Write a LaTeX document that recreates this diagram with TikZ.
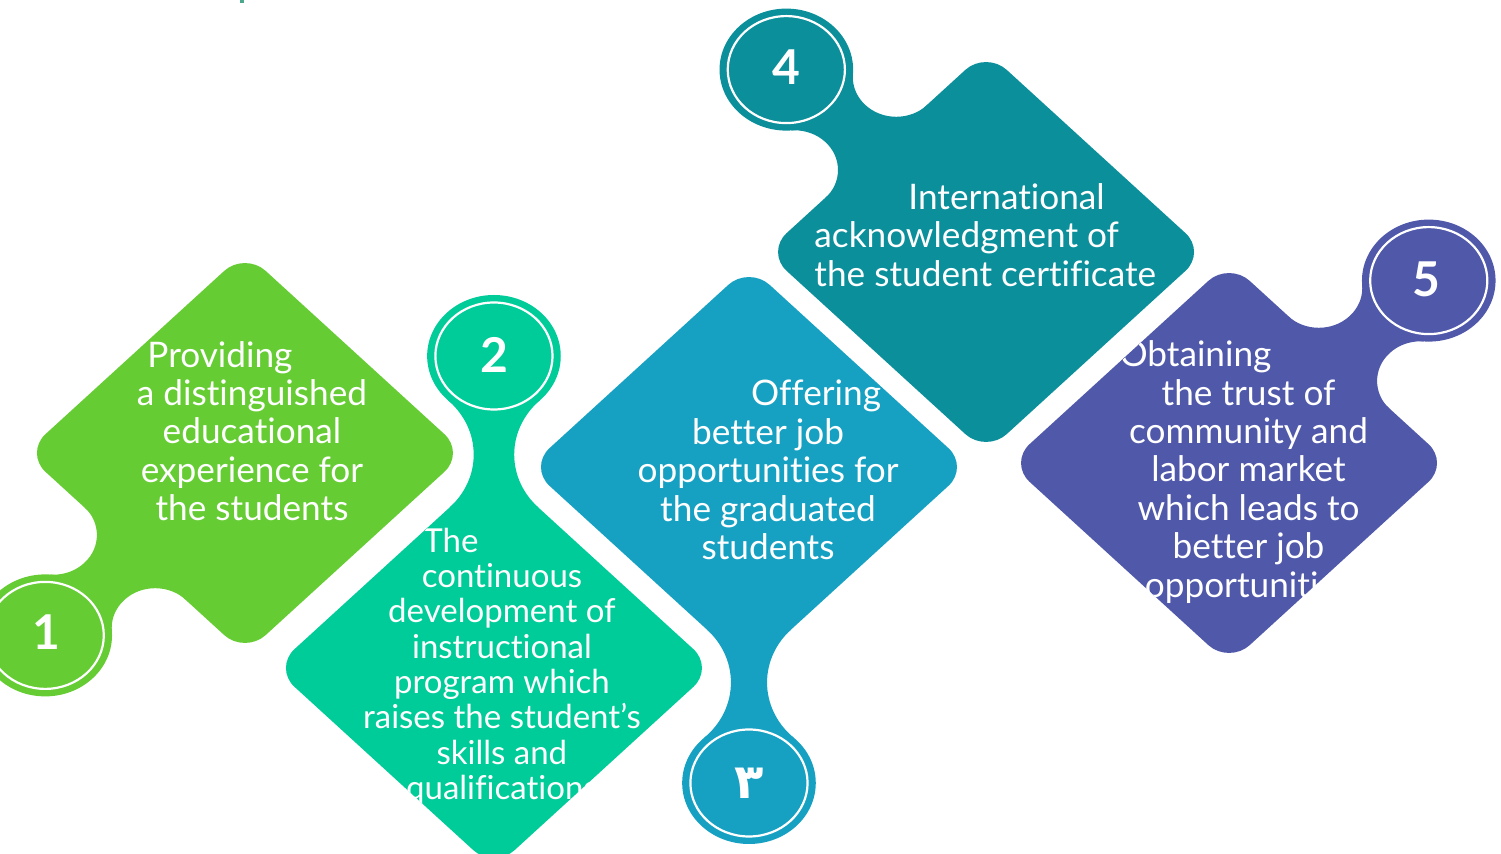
\documentclass[tikz,border=0pt]{standalone}
\usepackage{fontspec}
\setmainfont{Lato}[Ligatures=NoCommon]
\newfontfamily\arabicfont[Script=Arabic]{DejaVu Sans}
\definecolor{cA}{HTML}{66CC33}
\definecolor{cB}{HTML}{00CC99}
\definecolor{cC}{HTML}{16A1C3}
\definecolor{cD}{HTML}{0A8F9B}
\definecolor{cE}{HTML}{5058AA}
\definecolor{tinyc}{HTML}{4CA88C}
\tikzset{
  desc/.style={text=white, font=\fontsize{17.6}{19.2}\selectfont, align=center, inner sep=0pt},
  numtext/.style={text=white, font=\fontsize{24}{28}\selectfont\bfseries, inner sep=0pt},
  ring/.style={draw=white, line width=1.1pt},
}
\newcommand{\filldiamond}[3]{\fill[#3, rounded corners=14pt] (#1-100.5,#2-100.5) -- (#1,#2-201) -- (#1+201,#2) -- (#1,#2+201) -- (#1-201,#2) -- cycle;}
\newcommand{\clipdiamond}[2]{\clip[rounded corners=14pt] (#1-100.5,#2-100.5) -- (#1,#2-201) -- (#1+201,#2) -- (#1,#2+201) -- (#1-201,#2) -- cycle;}
\newcommand{\medal}[3]{\fill[#3] (#1,#2) circle[radius=30.5pt]; \draw[ring] (#1,#2) circle[radius=26.75pt];}
% neck towards an edge of the diamond
\newcommand{\edgeneck}[4]{%
\begin{scope}[shift={(#1,#2)}, rotate=#3]
\clip (0,0) -- (46.2,39.8) -- (116,65.7) -- (150,65.7) -- (150,-65.7) -- (116,-65.7) -- (46.2,-39.8) -- cycle;
\fill[#4, even odd rule] (-20,-250) rectangle (300,250)
  (76.3,65.7) circle[radius=19.85pt] (76.3,-65.7) circle[radius=19.85pt];
\end{scope}}
% neck towards a vertex of the diamond
\newcommand{\vertexneck}[9]{%
\begin{scope}[shift={(#1,#2)}, rotate=#3]
\clip (0,0) -- (#6) -- (#7) -- (#8,\ny) -- (#8,-\ny) -- (\nxm) -- (\nxa) -- cycle;
\fill[#4, even odd rule] (-20,-250) rectangle (300,250)
  (#5) circle[radius=#9] (\nfm) circle[radius=#9];
\end{scope}}
\begin{document}
\begin{tikzpicture}[x=0.5pt, y=-0.5pt]
\useasboundingbox (0,0) rectangle (1501,854);
\fill[tinyc] (240,0) rectangle (243.5,3.5);
\begin{scope}[xscale=1.095]
% piece 1
\filldiamond{223.7}{453}{cA}
\edgeneck{41.3}{635.4}{45}{cA}
\medal{41.3}{635.4}{cA}
% piece 2
\filldiamond{451.1}{668}{cB}
\def\ny{40.3}\def\nxm{151.4,-40.3}\def\nxa{44.4,-41.9}\def\nfm{98.6,-93.1}
\vertexneck{451.1}{356}{-90}{cB}{98.6,93.1}{44.4,41.9}{151.4,40.3}{191}{37.3pt}
\medal{451.1}{356}{cB}
% piece 3
\filldiamond{684.0}{467}{cC}
\def\ny{38.4}\def\nxm{153.5,-38.4}\def\nxa{45.1,-41.0}\def\nfm{100.5,-91.4}
\vertexneck{684.0}{783}{90}{cC}{100.5,91.4}{45.1,41.0}{153.5,38.4}{193}{37.45pt}
\medal{684.0}{783}{cC}
% piece 4
\filldiamond{900.5}{252}{cD}
\edgeneck{718.1}{69.6}{-45}{cD}
\medal{718.1}{69.6}{cD}
% piece 5
\filldiamond{1122.4}{463}{cE}
\edgeneck{1304.8}{280.6}{-135}{cE}
\medal{1304.8}{280.6}{cE}
% numbers
\node[numtext] (n1) at (42.5,632) {1};
\node[numtext] (n2) at (451.1,355) {2};
\node[numtext, font=\fontsize{24}{28}\selectfont\arabicfont\bfseries] (n3) at (684.0,783) {٣};
\node[numtext] (n4) at (718.1,67) {4};
\node[numtext] (n5) at (1302.5,279) {5};
% texts
\begin{scope}\clipdiamond{223.7}{453}
\node[desc] (t1) at (230.1,431) {Providing\hspace*{32pt}\\a distinguished\\educational\\experience for\\the students};
\end{scope}
\begin{scope}\clipdiamond{451.1}{668}
\node[desc, font=\fontsize{16.5}{17.65}\selectfont] (t2) at (458.4,666.5) {The\hspace*{51pt}\\continuous\\development of\\instructional\\program which\\raises the student’s\\skills and\\qualifications};
\end{scope}
\begin{scope}\clipdiamond{684.0}{467}
\node[desc] (t3) at (701.4,470) {\hspace*{48pt}Offering\\better job\\opportunities for\\the graduated\\students};
\end{scope}
\begin{scope}\clipdiamond{900.5}{252}
\node[desc, align=left, anchor=west] (t4) at (743.4,235) {\hspace*{47pt}International\\acknowledgment of\\the student certificate};
\end{scope}
\begin{scope}\clipdiamond{1122.4}{463}
\node[desc] (t5) at (1140.2,472) {Obtaining\hspace*{53pt}\\the trust of\\community and\\labor market\\which leads to\\better job\\opportunities};
\end{scope}
\end{scope}
\end{tikzpicture}
\end{document}
